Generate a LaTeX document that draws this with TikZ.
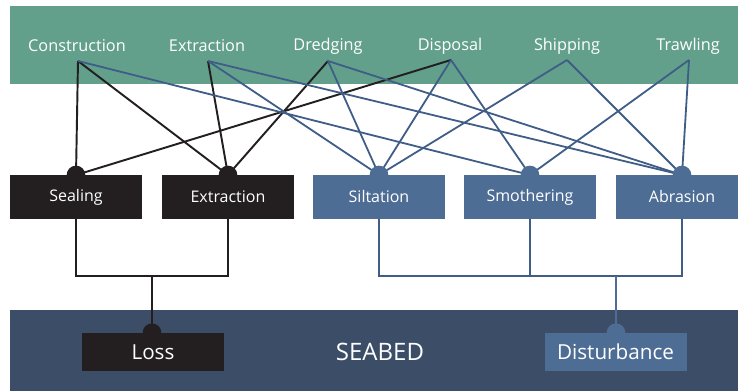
\documentclass[tikz,border=0pt]{standalone}
\usepackage{fontspec}
\setmainfont{Open Sans}
\definecolor{bandgreen}{HTML}{62A08B}
\definecolor{bandnavy}{HTML}{3C4E67}
\definecolor{boxblue}{HTML}{4E6D95}
\definecolor{boxblack}{HTML}{231F20}
\definecolor{lineblue}{HTML}{3F5D86}
\begin{document}
\begin{tikzpicture}[x=0.75pt,y=-0.75pt,
  activity/.style={text=white,font=\fontsize{12.2}{14}\selectfont,inner sep=0pt},
  pressure/.style={minimum width=99pt,minimum height=33pt,inner sep=0pt,
    text=white,font=\fontsize{12}{14}\selectfont},
  lossbox/.style={pressure,fill=boxblack},
  distbox/.style={pressure,fill=boxblue},
  impact/.style={minimum width=106.5pt,minimum height=28.5pt,inner sep=0pt,
    text=white,font=\fontsize{15.5}{18}\selectfont},
  blk/.style={draw=boxblack,line width=1.45pt},
  blu/.style={draw=lineblue,line width=1.35pt},
  knob/.style={circle,inner sep=0pt,minimum size=14pt}]
\useasboundingbox (0,0) rectangle (738,391);
\clip (0,0) rectangle (738,391);

% bands
\fill[bandgreen] (10,6) rectangle (750,84);
\fill[bandnavy] (10,310) rectangle (750,400);

% activities
\node[activity] (aCon) at (77,46) {Construction};
\node[activity] (aExt) at (207,46) {Extraction};
\node[activity] (aDre) at (328,46) {Dredging};
\node[activity] (aDis) at (450,46) {Disposal};
\node[activity] (aShi) at (567,46) {Shipping};
\node[activity] (aTra) at (688,46) {Trawling};
\coordinate (pCon) at (78,61);
\coordinate (pExt) at (208,61);
\coordinate (pDre) at (328,61);
\coordinate (pDis) at (451,60);
\coordinate (pShi) at (567,60);
\coordinate (pTra) at (689,60);

% pressures
\coordinate (sea) at (76,197);
\coordinate (ext) at (228,197);
\coordinate (sil) at (379,197);
\coordinate (smo) at (530,197);
\coordinate (abr) at (682,197);

% links, activity -> pressure
\draw[blk] (pCon) -- (sea |- 0,175);
\draw[blk] (pCon) -- (ext |- 0,175);
\draw[blk] (pExt) -- (ext |- 0,175);
\draw[blk] (pDre) -- (ext |- 0,175);
\draw[blk] (pDis) -- (sea |- 0,175);
\draw[blu] (pCon) -- (smo |- 0,175);
\draw[blu] (pExt) -- (sil |- 0,175);
\draw[blu] (pExt) -- (abr |- 0,175);
\draw[blu] (pDre) -- (sil |- 0,175);
\draw[blu] (pDre) -- (abr |- 0,175);
\draw[blu] (pDis) -- (sil |- 0,175);
\draw[blu] (pDis) -- (smo |- 0,175);
\draw[blu] (pShi) -- (sil |- 0,175);
\draw[blu] (pShi) -- (abr |- 0,175);
\draw[blu] (pTra) -- (smo |- 0,175);
\draw[blu] (pTra) -- (abr |- 0,175);

% pressure boxes with their knobs
\node[knob,fill=boxblack] at (sea |- 0,175) {};
\node[knob,fill=boxblack] at (ext |- 0,175) {};
\node[knob,fill=boxblue] at (sil |- 0,175) {};
\node[knob,fill=boxblue] at (smo |- 0,175) {};
\node[knob,fill=boxblue] at (abr |- 0,175) {};
\node[lossbox] (bSea) at (sea) {Sealing};
\node[lossbox] (bExt) at (ext) {Extraction};
\node[distbox] (bSil) at (sil) {Siltation};
\node[distbox] (bSmo) at (smo) {Smothering};
\node[distbox] (bAbr) at (abr) {Abrasion};

% impacts
\coordinate (busL) at (152,276);
\coordinate (busD) at (616,276);
\node[impact,fill=boxblack] (loss) at (153,352) {};
\node[impact,fill=boxblue] (dist) at (615.5,352) {};
\draw[blk] (bSea.south) |- (busL) -| (bExt.south);
\draw[blk] (busL) -- (loss.north -| busL);
\draw[blu] (bSil.south) |- (busD) -| (bAbr.south);
\draw[blu] (bSmo.south) -- (bSmo.south |- busD);
\draw[draw=boxblue,line width=1.35pt] (busD) -- (dist.north -| busD);
\node[knob,fill=boxblack] at (loss.north -| busL) {};
\node[knob,fill=boxblue] at (dist.north -| busD) {};
\node[impact,fill=boxblack] at (153,352) {Loss};
\node[impact,fill=boxblue] at (615.5,352) {Disturbance};

\node[text=white,font=\fontsize{18}{21}\selectfont] (seabed) at (380,352) {SEABED};
\end{tikzpicture}
\end{document}
